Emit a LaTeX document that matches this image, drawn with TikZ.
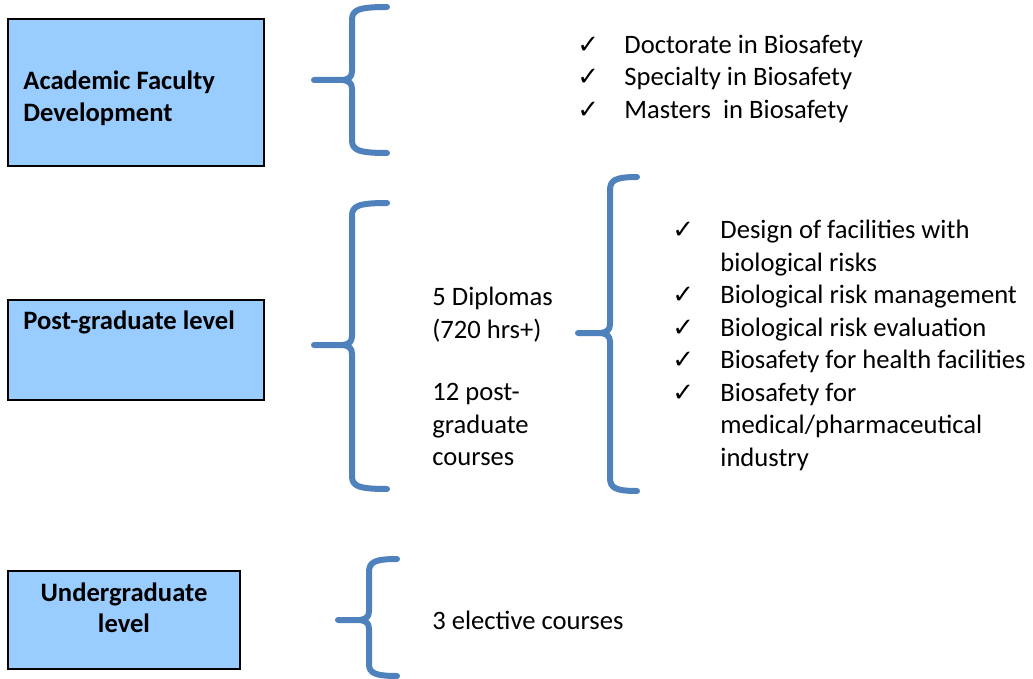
\documentclass[tikz,border=0pt]{standalone}
\usepackage{fontspec}
\usepackage{xcolor}
\setmainfont{Carlito}
\newfontfamily\symfont{DejaVu Sans}
\definecolor{boxblue}{HTML}{99CCFF}
\definecolor{braceblue}{HTML}{4F81BD}
\tikzset{
  level/.style={draw=black, line width=1pt, fill=boxblue, inner sep=0pt},
  leveltext/.style={font=\fontsize{13.3}{15.75}\selectfont\bfseries, inner sep=0pt},
  item/.style={font=\fontsize{13.3}{16.25}\selectfont, align=left, anchor=base west, inner sep=0pt},
  tick/.style={font=\symfont\fontsize{13}{16.25}\selectfont, anchor=base west, inner sep=0pt},
  brace line/.style={draw=braceblue, line width=3pt, line cap=round, line join=round}
}

\begin{document}
\begin{tikzpicture}[x=0.5pt, y=-0.5pt]
    \useasboundingbox (0,0) rectangle (1033,679);
    % Level boxes
    \node[level, minimum width=128pt, minimum height=73.5pt] (faculty) at (136,92.5) {};
    \node[level, minimum width=128pt, minimum height=50pt] (postgrad) at (136,350) {};
    \node[level, minimum width=116pt, minimum height=49pt] (undergrad) at (124,620) {};

    % (base anchor of a multi-line node sits on its last line)
    \node[leveltext, align=left, anchor=base west] (facultytext) at (23,121.5) {Academic Faculty\\Development};
    \node[leveltext, anchor=base west] (postgradtext) at (23,329.5) {Post-graduate level};
    \node[leveltext, align=center, anchor=base] (undergradtext) at (124,632.5) {Undergraduate\\level};

    % Braces
    \draw[brace line] (387,7) .. controls (358,7) and (352,10) .. (352,20) -- (352,71)
        .. controls (352,77) and (349,79) .. (343,80) -- (314,80);
    \draw[brace line] (343,80) .. controls (349,81) and (352,83) .. (352,89) -- (352,140)
        .. controls (352,150) and (358,153) .. (387,153);

    \draw[brace line] (387,203) .. controls (358,203) and (352,206) .. (352,216) -- (352,336)
        .. controls (352,342) and (349,344) .. (343,345) -- (314,345);
    \draw[brace line] (343,345) .. controls (349,346) and (352,348) .. (352,354) -- (352,476)
        .. controls (352,486) and (358,489) .. (387,489);

    \draw[brace line] (637,177) .. controls (616,177) and (610,180) .. (610,190) -- (610,324)
        .. controls (610,330) and (607,332) .. (601,333) -- (578,333);
    \draw[brace line] (601,333) .. controls (607,334) and (610,336) .. (610,342) -- (610,478)
        .. controls (610,488) and (616,491) .. (637,491);

    \draw[brace line] (397,559) .. controls (375,559) and (369,562) .. (369,572) -- (369,611)
        .. controls (369,617) and (366,619) .. (360,620) -- (338,620);
    \draw[brace line] (360,620) .. controls (366,621) and (369,623) .. (369,629) -- (369,664)
        .. controls (369,673) and (375,676) .. (397,676);

    % Faculty degrees
    \node[tick] (tickdoc) at (577,53.5) {✓};
    \node[tick] (tickspec) at (577,86) {✓};
    \node[tick] (tickmast) at (577,118.5) {✓};
    \node[item] (degrees) at (624,118.5) {Doctorate in Biosafety\\Specialty in Biosafety\\Masters\ \ in Biosafety};

    % Post-graduate offer
    \node[item] (diplomas) at (432,338) {5 Diplomas\\(720 hrs+)};
    \node[item] (courses) at (432,465.5) {12 post-\\graduate\\courses};

    \node[tick] (tickdesign) at (672,238.5) {✓};
    \node[tick] (tickmanage) at (672,303.5) {✓};
    \node[tick] (tickeval) at (672,336) {✓};
    \node[tick] (tickhealth) at (672,368.5) {✓};
    \node[tick] (tickindustry) at (672,401) {✓};
    \node[item] (topics) at (720,466) {Design of facilities with\\biological risks\\Biological risk management\\Biological risk evaluation\\Biosafety for health facilities\\Biosafety for\\medical/pharmaceutical\\industry};

    % Undergraduate offer
    \node[item] (electives) at (432,629.5) {3 elective courses};
\end{tikzpicture}
\end{document}
